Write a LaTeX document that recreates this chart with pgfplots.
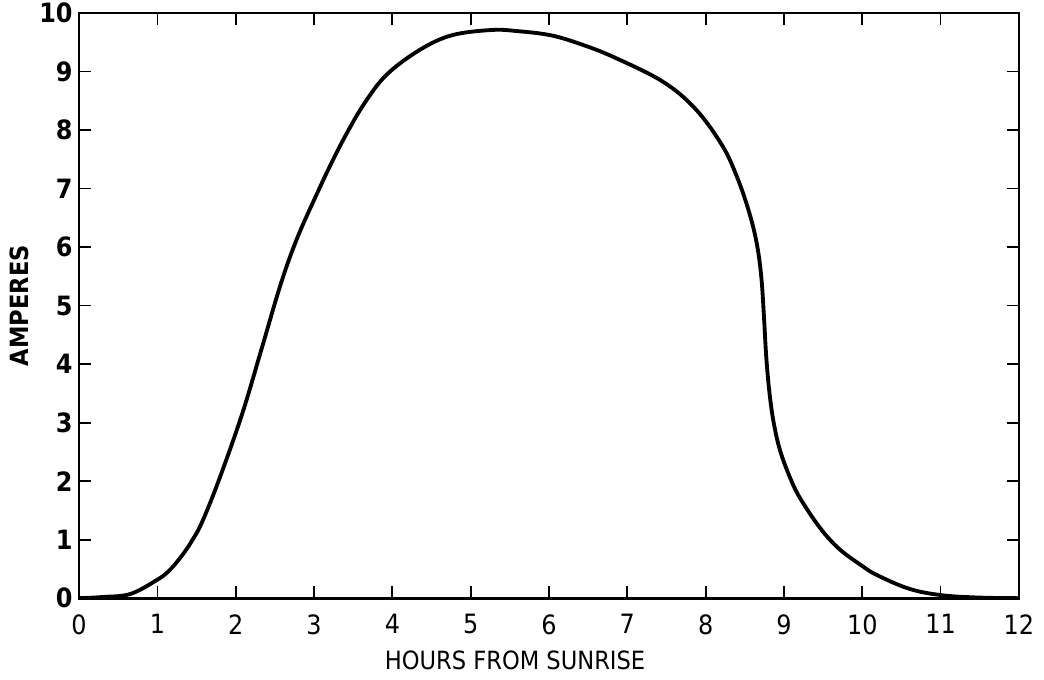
\documentclass[border=0pt]{standalone}
\usepackage{pgfplots}
\pgfplotsset{compat=1.18}
\usepackage{fontspec}
\setmainfont{DejaVu Sans Condensed}
\begin{document}
\begin{tikzpicture}
\begin{axis}[
  scale only axis,
  width=318pt, height=198pt,
  xmin=0, xmax=12, ymin=0, ymax=10,
  xtick={0,...,12}, ytick={0,...,10},
  tick align=inside,
  major tick length=4pt,
  axis line style={line width=0.9pt},
  every tick/.style={line width=0.6pt, black},
  tick label style={font=\fontsize{9}{10}\selectfont},
  xticklabel style={yshift=-2pt},
  yticklabel style={font=\fontsize{9}{10}\selectfont\bfseries, inner sep=1pt, xshift=-1pt},
  /pgf/number format/assume math mode=true,
  xlabel={HOURS FROM SUNRISE},
  ylabel={\bfseries AMPERES},
  label style={font=\fontsize{8.5}{9}\selectfont},
  x label style={xshift=-11.5pt, yshift=1.5pt},
  y label style={yshift=-1pt},
]
\addplot[black, line width=1.3pt, smooth, tension=0.6] coordinates {
(0,0) (0.3,0.02) (0.65,0.07) (0.98,0.30) (1.15,0.47) (1.32,0.74) (1.45,1.00)
(1.57,1.30) (1.78,2.00) (2.08,3.14) (2.33,4.26) (2.58,5.39) (2.79,6.17)
(3.04,6.92) (3.22,7.43) (3.42,7.95) (3.65,8.47) (3.93,8.95) (4.35,9.37)
(4.76,9.62) (5.27,9.71) (5.60,9.69) (6.02,9.62) (6.40,9.47) (6.82,9.25)
(7.45,8.83) (7.87,8.36) (8.21,7.74) (8.40,7.20) (8.55,6.62) (8.65,6.08)
(8.71,5.50) (8.745,4.80) (8.775,4.10) (8.82,3.45) (8.88,2.92) (8.97,2.44)
(9.13,1.90) (9.28,1.55) (9.45,1.22) (9.60,0.98) (9.76,0.78) (10.0,0.55)
(10.18,0.40) (10.60,0.16) (11.02,0.05) (11.5,0.01) (12,0)
};
\end{axis}
\end{tikzpicture}
\end{document}
